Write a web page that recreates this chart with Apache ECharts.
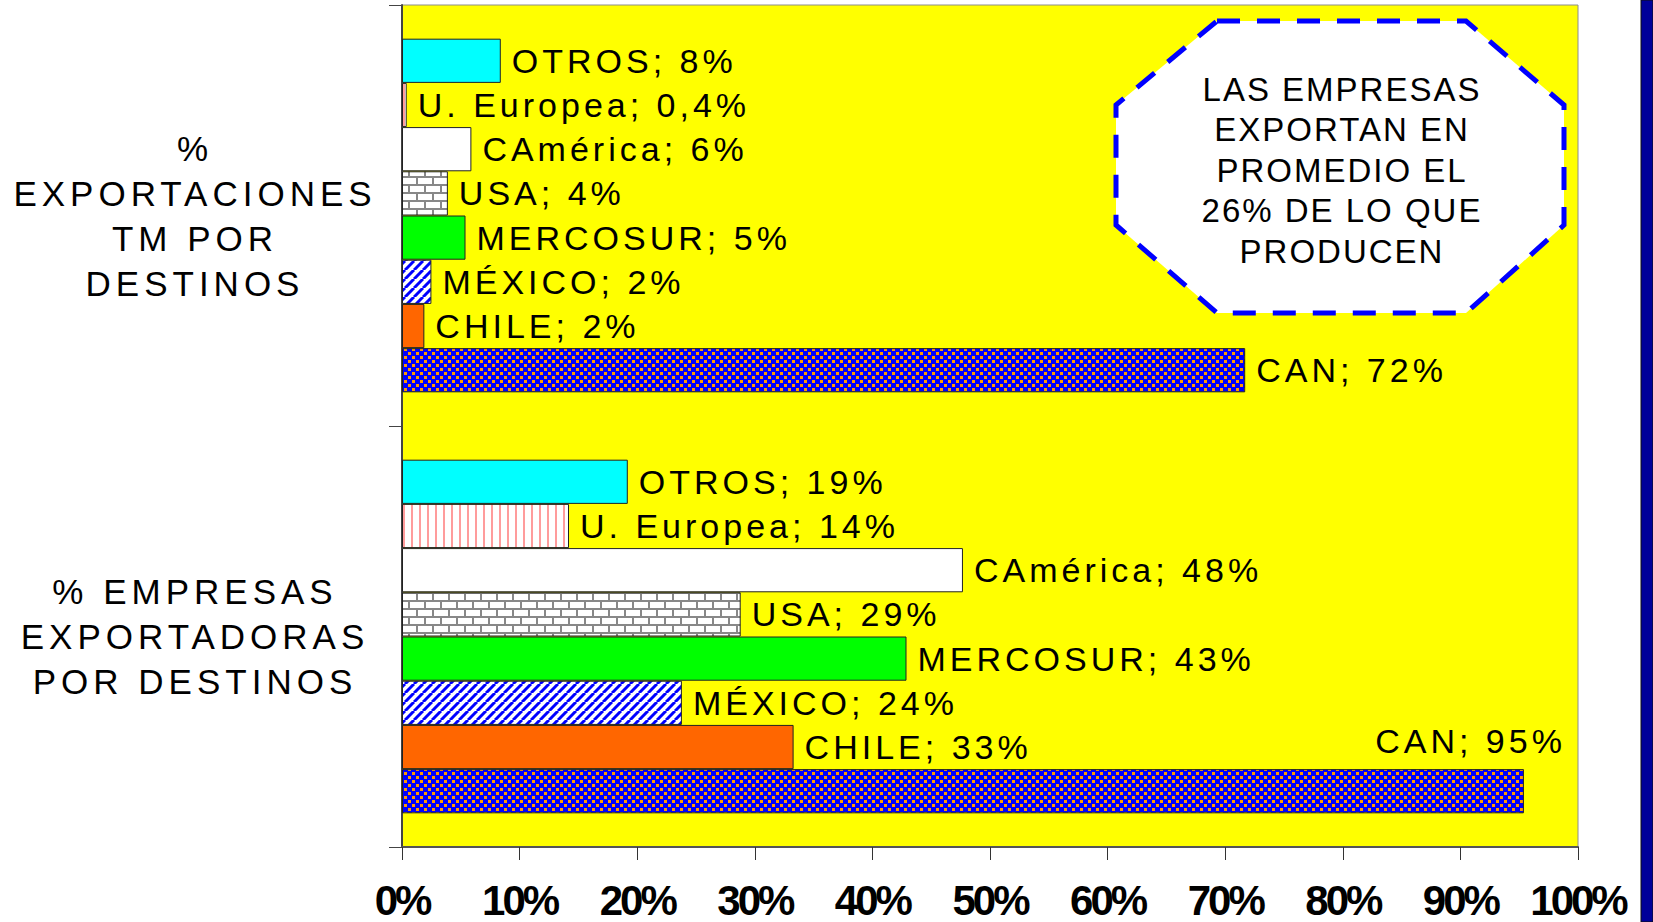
<!DOCTYPE html>
<html>
<head>
<meta charset="utf-8">
<script src="https://cdn.jsdelivr.net/npm/echarts@6/dist/echarts.min.js"></script>
<style>
    html, body { margin: 0; padding: 0; background: #fff; }
    #chart { width: 1653px; height: 922px; }
    /* texto espaciado como en el original */
    #chart text { letter-spacing: 4px; }
    #chart text[style*="Arial"] { letter-spacing: 5px; }
    #chart text[style*="Helvetica"] { letter-spacing: 2px; }
    #chart text[style*="Arimo"] { letter-spacing: -3px; }
</style>
</head>
<body>
<div id="chart"></div>
<script>
// categorías (de arriba a abajo)
const groups = ['%\nEXPORTACIONES\nTM POR\nDESTINOS', '% EMPRESAS\nEXPORTADORAS\nPOR DESTINOS']
const destinos = ['OTROS', 'U. Europea', 'CAmérica', 'USA', 'MERCOSUR', 'MÉXICO', 'CHILE', 'CAN']
// % exportaciones TM por destino
const exportTM = [8.4, 0.4, 5.9, 3.9, 5.4, 2.5, 1.9, 71.7]
const exportTMText = ['8%', '0,4%', '6%', '4%', '5%', '2%', '2%', '72%']
// % empresas exportadoras por destino
const empresas = [19.2, 14.2, 47.7, 28.8, 42.9, 23.8, 33.3, 95.4]
const empresasText = ['19%', '14%', '48%', '29%', '43%', '24%', '33%', '95%']
const xTicks = [0, 10, 20, 30, 40, 50, 60, 70, 80, 90, 100]

// familias distintas solo para poder dar espaciado distinto por CSS
const FONT = '"Liberation Sans", sans-serif'
const FONT_Y = '"Liberation Sans", Arial, sans-serif'
const FONT_BOX = '"Liberation Sans", Helvetica, sans-serif'
const FONT_X = '"Liberation Sans", Arimo, sans-serif'

// tramas de relleno
function tile(w, h, draw) {
    let c = document.createElement('canvas')
    c.width = w
    c.height = h
    draw(c.getContext('2d'), w, h)
    return { image: c, repeat: 'repeat' }
}
const pink = tile(8, 4, (ctx, w, h) => {
    ctx.fillStyle = '#fff'
    ctx.fillRect(0, 0, w, h)
    ctx.fillStyle = '#ff9c9c'
    ctx.fillRect(3, 0, 2, h)
})
const brick = tile(16, 16, (ctx, w, h) => {
    ctx.fillStyle = '#fff'
    ctx.fillRect(0, 0, w, h)
    ctx.fillStyle = '#888'
    ctx.fillRect(0, 0, w, 2)
    ctx.fillRect(0, 8, w, 2)
    ctx.fillRect(0, 0, 2, 8)
    ctx.fillRect(8, 8, 2, 8)
})
const diag = tile(9, 9, (ctx, w, h) => {
    ctx.fillStyle = '#fff'
    ctx.fillRect(0, 0, w, h)
    ctx.strokeStyle = '#0000ff'
    ctx.lineWidth = 3
    for (let k = -w; k <= w; k += w) {
        ctx.beginPath()
        ctx.moveTo(k, h)
        ctx.lineTo(k + w, 0)
        ctx.stroke()
    }
})
const dots = tile(8, 8, (ctx, w, h) => {
    ctx.fillStyle = '#0000ff'
    ctx.fillRect(0, 0, w, h)
    ctx.fillStyle = '#ff9900'
    ctx.fillRect(0, 0, 3, 3)
    ctx.fillRect(4, 4, 3, 3)
})
const fills = ['#00ffff', pink, '#ffffff', brick, '#00ff00', diag, '#ff6600', dots]

const series = destinos.map((name, i) => {
    let data = [
        { value: exportTM[i], text: exportTMText[i] },
        { value: empresas[i], text: empresasText[i] }
    ]
    if (name === 'CAN') {
        // etiqueta desplazada sobre la barra, como en el original
        data[1].label = { position: 'insideRight', distance: 5, offset: [47, -50] }
    }
    return {
        name: name,
        type: 'bar',
        barGap: '0%',
        barCategoryGap: '16%',
        data: data,
        itemStyle: { color: fills[i], borderColor: '#222', borderWidth: 1 },
        label: {
            show: true,
            position: 'right',
            distance: 11,
            color: '#000',
            fontFamily: FONT,
            fontSize: 34,
            formatter: p => name + '; ' + p.data.text
        },
        emphasis: { disabled: true },
        animation: false
    }
})

let myChart = echarts.init(document.getElementById('chart'), null, { renderer: 'svg' })
myChart.setOption({
    backgroundColor: '#fff',
    animation: false,
    grid: {
        left: 402, right: 75, top: 5, bottom: 75,
        show: true, backgroundColor: '#ffff00', borderColor: '#8c8c8c', borderWidth: 1,
        outerBoundsMode: 'none'
    },
    xAxis: {
        type: 'value',
        min: xTicks[0],
        max: xTicks[xTicks.length - 1],
        interval: 10,
        axisLine: { show: true, lineStyle: { color: '#555', width: 2 } },
        axisTick: { show: true, length: 13, lineStyle: { color: '#333', width: 1 } },
        splitLine: { show: false },
        axisLabel: {
            margin: 32,
            color: '#000',
            fontFamily: FONT_X,
            fontWeight: 'bold',
            fontSize: 42,
            formatter: '{value}%'
        }
    },
    yAxis: {
        type: 'category',
        inverse: true,
        data: groups,
        axisLine: { show: true, lineStyle: { color: '#444', width: 2 } },
        axisTick: { show: true, length: 13, lineStyle: { color: '#444', width: 1 } },
        axisLabel: {
            margin: 207,
            align: 'center',
            color: '#000',
            fontFamily: FONT_Y,
            fontSize: 35,
            lineHeight: 45
        }
    },
    series: series,
    graphic: [
        {
            type: 'polygon',
            z: 100,
            shape: {
                points: [[1217, 21], [1466, 21], [1564, 105], [1564, 225], [1466, 313], [1217, 313], [1116, 225], [1116, 105]]
            },
            style: { fill: '#fff', stroke: '#0000ff', lineWidth: 5, lineDash: [23, 17] }
        },
        {
            type: 'text',
            z: 101,
            x: 1342,
            y: 170,
            style: {
                text: 'LAS EMPRESAS\nEXPORTAN EN\nPROMEDIO EL\n26% DE LO QUE\nPRODUCEN',
                font: '33px ' + FONT_BOX,
                fill: '#000',
                textAlign: 'center',
                textVerticalAlign: 'middle',
                lineHeight: 40.5
            }
        },
        { type: 'rect', z: 100, shape: { x: 1641, y: 0, width: 12, height: 922 }, style: { fill: '#000099', stroke: '#111', lineWidth: 1 } }
    ]
})
</script>
</body>
</html>
